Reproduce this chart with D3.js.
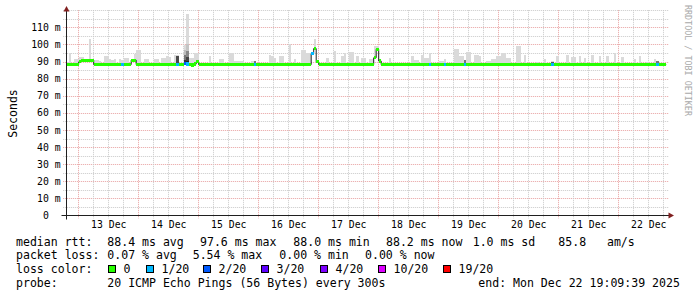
<!DOCTYPE html>
<html>
<head>
<meta charset="utf-8">
<script src="https://cdn.jsdelivr.net/npm/d3@7"></script>
<style>
  body { margin: 0; background: #fff; }
  svg { display: block; }
  text { font-family: "DejaVu Sans Mono", monospace; white-space: pre; }
</style>
</head>
<body>
<div id="chart"></div>
<script>
// smokeping graph, last 10 days, 1 hour per data row
const START = new Date(2025, 11, 12, 19, 9, 39);
const END = new Date(2025, 11, 22, 19, 9, 39);
const HOURS = 240;
const BASE_MEDIAN = 88.2;

// hourly median rtt (ms) where it leaves the baseline: [hour, ms]
const medianChanges = [[5, 89.8], [6, 90.8], [7, 90.8], [8, 90.8], [9, 90.8], [10, 90.8],
  [26, 90.8], [27, 90.8], [47, 88.9], [48, 88.6], [50, 88.0], [51, 88.5], [52, 89.8],
  [98, 94.6], [99, 97.6], [100, 89.8], [123, 92.2], [124, 97.2], [125, 90.3]];

// lost pings out of 20, only hours with loss: [hour, lost]
const lossHours = [[22, 1], [44, 1], [47, 2], [48, 1], [75, 1], [98, 1], [145, 1],
  [151, 1], [159, 1], [194, 1], [236, 1]];

// slowest ping per hour (top of the smoke), ms: [hour, ms]
const smokeTop = [[0, 89.5], [1, 95], [3, 91.2], [4, 91.2], [5, 92.6], [6, 92.6], [9, 103.3],
  [11, 91], [12, 91], [13, 90.5], [15, 93.2], [16, 93.2], [17, 91.2], [18, 91], [19, 91.2],
  [21, 91.2], [22, 91], [23, 92.2], [24, 92.2], [27, 94.2], [28, 96.7], [29, 96.7],
  [31, 91.2], [32, 91.2], [35, 91.4], [36, 91.4], [38, 92], [39, 92], [40, 93], [41, 92.5],
  [43, 93.6], [44, 93.6], [47, 99.4], [48, 117.6], [49, 92.2], [50, 92.2], [51, 95.1],
  [52, 95.1], [57, 93.2], [61, 91.6], [62, 91.6], [65, 94.7], [66, 94.7], [67, 90.3],
  [68, 90.3], [69, 90.3], [70, 90.3], [74, 90.2], [75, 90.5], [81, 94], [82, 93], [83, 92],
  [85, 93], [86, 93], [89, 100], [91, 91.5], [94, 96.5], [95, 96.5], [96, 95], [97, 95],
  [99, 103], [104, 92], [107, 96], [110, 93.4], [111, 95], [113, 95.5], [114, 95.5],
  [116, 93], [118, 92], [119, 92], [121, 91.4], [122, 91.4], [123, 98.8], [124, 98.8],
  [129, 92], [138, 93], [139, 91], [140, 91], [142, 94], [143, 92], [144, 92], [145, 95],
  [149, 90.5], [150, 90.5], [151, 91.4], [155, 97.5], [156, 97.5], [157, 93.4], [158, 93.4],
  [159, 91], [160, 95.3], [161, 95.3], [163, 94], [164, 94], [165, 93.4], [168, 90.5],
  [169, 90.5], [170, 91.4], [171, 91.4], [172, 93.4], [173, 93.4], [174, 95], [175, 95],
  [176, 92], [177, 92], [180, 98.8], [181, 98.8], [183, 94], [188, 90], [191, 91.4],
  [194, 90.5], [196, 93], [200, 94], [202, 92.7], [203, 92.7], [205, 93], [207, 92],
  [210, 94], [213, 93.4], [216, 93.4], [219, 95], [222, 92.7], [227, 91.4], [229, 93.4],
  [232, 90], [235, 91.4], [236, 90.5]];

// denser smoke bands (many pings in the range): [hour, low ms, high ms, shade]
const smokeCore = [[44, 88.0, 93.3, "#4a4a4a"], [47, 88.4, 97, "#bdbdbd"], [47, 88.4, 94, "#777"],
  [47, 88.4, 91, "#333"], [48, 88.4, 100, "#c4c4c4"], [48, 88.4, 96, "#888"],
  [48, 88.4, 92.5, "#444"], [48, 88.4, 90.5, "#222"], [75, 88.2, 90.2, "#777"],
  [159, 88.2, 91, "#777"], [194, 88.2, 89.5, "#555"], [236, 88.2, 90.5, "#777"]];

const yTicks = [0, 10, 20, 30, 40, 50, 60, 70, 80, 90, 100, 110];
const rttStatValues = [88.4, 97.6, 88.0, 88.2];
const rttStatNames = ["avg", "max", "min", "now"];
const rttSd = 1.0;
const rttAms = 85.8;
const lossStatValues = [0.07, 5.54, 0.00, 0.00];
const lossLegendLabels = ["0", "1/20", "2/20", "3/20", "4/20", "10/20", "19/20"];
const lossLegendColors = ["#26ff00", "#00b8ff", "#0059ff", "#5e00ff", "#7e00ff", "#dd00ff", "#ff0000"];
const probeText = "20 ICMP Echo Pings (56 Bytes) every 300s";
const endText = "end: Mon Dec 22 19:09:39 2025";

function drawSmokeping(targetSelector) {
  const W = 697, H = 297;
  const plot = { left: 66.2, right: 666.2, top: 10.2, bottom: 215.5 };
  const svg = d3.select(targetSelector).append("svg").attr("width", W).attr("height", H);
  svg.append("rect").attr("width", W).attr("height", H).attr("fill", "#fff");

  const x = d3.scaleTime().domain([START, END]).range([plot.left, plot.right]);
  const y = d3.scaleLinear().domain([0, 120]).range([plot.bottom, plot.top]);
  const hx = i => x(d3.timeHour.offset(START, i));
  const snap = v => Math.round(v) + 0.5;

  // per hour series
  const medMap = new Map(medianChanges);
  const lossMap = new Map(lossHours);
  const hours = d3.range(HOURS).map(i => ({ i, median: medMap.has(i) ? medMap.get(i) : BASE_MEDIAN, loss: lossMap.get(i) || 0 }));
  const lossColor = d3.scaleThreshold().domain([1, 2, 3, 4, 5, 11]).range(lossLegendColors);

  // grid
  const grid = svg.append("g");
  const hLines = d3.range(5, 121, 5);
  grid.selectAll(".hg").data(hLines).enter().append("line")
    .attr("x1", plot.left - 3).attr("x2", plot.right + 2)
    .attr("y1", d => snap(y(d))).attr("y2", d => snap(y(d)))
    .attr("stroke", d => (d % 10 === 0 && d <= 110) ? "#e8a0a0" : "#c9c9c9")
    .attr("stroke-dasharray", "1,1");
  const sixHours = d3.timeHour.every(6).range(START, END);
  grid.selectAll(".vg").data(sixHours).enter().append("line")
    .attr("x1", d => snap(x(d))).attr("x2", d => snap(x(d)))
    .attr("y1", plot.top).attr("y2", plot.bottom + 3)
    .attr("stroke", d => d.getHours() === 0 ? "#e8a0a0" : "#c9c9c9")
    .attr("stroke-dasharray", "1,1");

  // smoke
  const smoke = svg.append("g").attr("shape-rendering", "crispEdges");
  smoke.selectAll(".s").data(smokeTop).enter().append("rect")
    .attr("x", d => hx(d[0])).attr("width", d => hx(d[0] + 1) - hx(d[0]))
    .attr("y", d => y(d[1])).attr("height", d => y(hours[d[0]].median - 0.4) - y(d[1]))
    .attr("fill", "#dadada");
  smoke.selectAll(".c").data(smokeCore).enter().append("rect")
    .attr("x", d => hx(d[0])).attr("width", d => hx(d[0] + 1) - hx(d[0]))
    .attr("y", d => y(d[2])).attr("height", d => y(d[1]) - y(d[2]))
    .attr("fill", d => d[3]);

  // black median step line, then loss coloured band
  const stepLine = d3.line().curve(d3.curveStepAfter).x(d => hx(d.i)).y(d => y(d.median));
  svg.append("path").datum(hours.concat([{ i: HOURS, median: BASE_MEDIAN }]))
    .attr("d", stepLine).attr("fill", "none").attr("stroke", "#202020").attr("stroke-width", 1);
  svg.append("g").attr("shape-rendering", "crispEdges").selectAll("rect").data(hours).enter().append("rect")
    .attr("x", d => hx(d.i)).attr("width", d => hx(d.i + 1) - hx(d.i) + 0.05)
    .attr("y", d => y(d.median) - 1.6).attr("height", 3.2)
    .attr("fill", d => lossColor(d.loss));

  // axes
  const axis = svg.append("g");
  axis.append("line").attr("x1", 61.5).attr("x2", 670).attr("y1", plot.bottom).attr("y2", plot.bottom).attr("stroke", "#1f1f1f");
  axis.append("line").attr("x1", 66.5).attr("x2", 66.5).attr("y1", 219.5).attr("y2", 9).attr("stroke", "#1f1f1f");
  axis.append("path").attr("d", "M674,215.5L668.5,212.5L668.5,218.5Z").attr("fill", "#801f1f");
  axis.append("path").attr("d", "M66.5,6L63.5,11.5L69.5,11.5Z").attr("fill", "#801f1f");

  axis.selectAll(".yl").data(yTicks).enter().append("text")
    .attr("x", d => d === 0 ? 48.8 : 60.7).attr("y", d => y(d) + 3.6)
    .attr("text-anchor", "end").style("font-size", "9.8px").attr("fill", "#000")
    .text(d => d === 0 ? "0" : `${d} m`);
  const noons = d3.timeDay.range(START, END).map(d => d3.timeHour.offset(d, 12)).filter(d => d > START && d < END);
  axis.selectAll(".xl").data(noons).enter().append("text")
    .attr("x", d => x(d) + 0.5).attr("y", 228.3).attr("text-anchor", "middle")
    .style("font-size", "9.8px").text(d => d3.timeFormat("%d %b")(d));

  svg.append("text").attr("transform", "translate(16.5,113.5) rotate(-90)").attr("text-anchor", "middle")
    .style("font-size", "11.5px").text("Seconds");
  svg.append("text").attr("transform", "translate(684.5,5) rotate(90)").attr("text-anchor", "start")
    .style("font-size", "8.4px").attr("fill", "#a9a9a9").text("RRDTOOL / TOBI OETIKER");

  // legend
  const lg = svg.append("g").style("font-size", "11.55px").attr("fill", "#000");
  const rttX = [107.3, 200, 293.3, 386];
  lg.append("text").attr("x", 16).attr("y", 245.7).text("median rtt:");
  lg.selectAll(".r").data(rttStatValues).enter().append("text")
    .attr("x", (d, i) => rttX[i]).attr("y", 245.7).text((d, i) => `${d.toFixed(1)} ms ${rttStatNames[i]}`);
  lg.append("text").attr("x", 472.7).attr("y", 245.7).text(`${rttSd.toFixed(1)} ms sd`);
  lg.append("text").attr("x", 558.3).attr("y", 245.7).text(`${rttAms.toFixed(1)}   am/s`);

  const lossX = [107.3, 192.7, 279.3, 365];
  lg.append("text").attr("x", 16).attr("y", 259).text("packet loss:");
  lg.selectAll(".l").data(lossStatValues).enter().append("text")
    .attr("x", (d, i) => lossX[i]).attr("y", 259).text((d, i) => `${d.toFixed(2)} % ${rttStatNames[i]}`);

  const boxX = [108.5, 146.5, 203.5, 261.5, 320.5, 378.5, 443.5];
  lg.append("text").attr("x", 16).attr("y", 273).text("loss color:");
  lg.selectAll(".b").data(lossLegendColors).enter().append("rect")
    .attr("x", (d, i) => boxX[i]).attr("y", 265.5).attr("width", 7).attr("height", 7)
    .attr("fill", d => d).attr("stroke", "#000").attr("stroke-width", 1);
  lg.selectAll(".bl").data(lossLegendLabels).enter().append("text")
    .attr("x", (d, i) => boxX[i] + 15).attr("y", 273).text(d => d);

  lg.append("text").attr("x", 16).attr("y", 286.5).text("probe:");
  lg.append("text").attr("x", 107.3).attr("y", 286.5).text(probeText);
  lg.append("text").attr("x", 478.3).attr("y", 286.5).text(endText);
}

drawSmokeping("#chart");
</script>
</body>
</html>
